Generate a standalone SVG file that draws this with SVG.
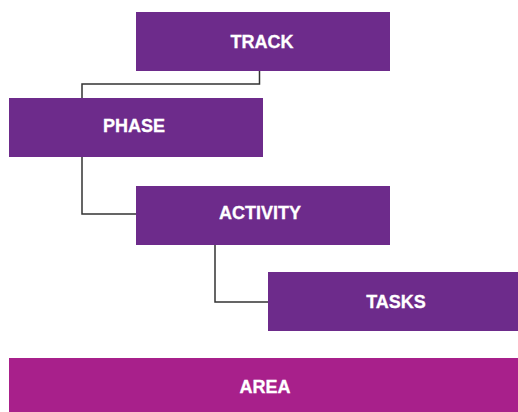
<svg xmlns="http://www.w3.org/2000/svg" width="518" height="412" viewBox="0 0 518 412">
<style>
.box{fill:#6d2b8b}
.area{fill:#a8208b}
.lbl{font-family:"Liberation Sans",Arial,sans-serif;font-weight:bold;font-size:18px;fill:#ffffff;stroke:#ffffff;stroke-width:0.3;text-anchor:middle}
.conn{fill:none;stroke:#333333;stroke-width:1.5}
</style>
<rect width="518" height="412" fill="#ffffff"/>
<g id="connectors">
<polyline class="conn" points="259.5,71 259.5,84 82,84 82,98"/>
<polyline class="conn" points="82,157 82,214 136,214"/>
<polyline class="conn" points="215,245 215,302 268,302"/>
</g>
<g id="track"><rect class="box" x="136" y="12" width="254" height="59"/><text class="lbl" x="262" y="48">TRACK</text></g>
<g id="phase"><rect class="box" x="9" y="98" width="254" height="59"/><text class="lbl" x="134" y="132">PHASE</text></g>
<g id="activity"><rect class="box" x="136" y="186" width="254" height="59"/><text class="lbl" x="260" y="219">ACTIVITY</text></g>
<g id="tasks"><rect class="box" x="268" y="272" width="250" height="59"/><text class="lbl" x="396" y="308">TASKS</text></g>
<g id="area"><rect class="area" x="9" y="358" width="509" height="54"/><text class="lbl" x="265" y="393">AREA</text></g>
</svg>
